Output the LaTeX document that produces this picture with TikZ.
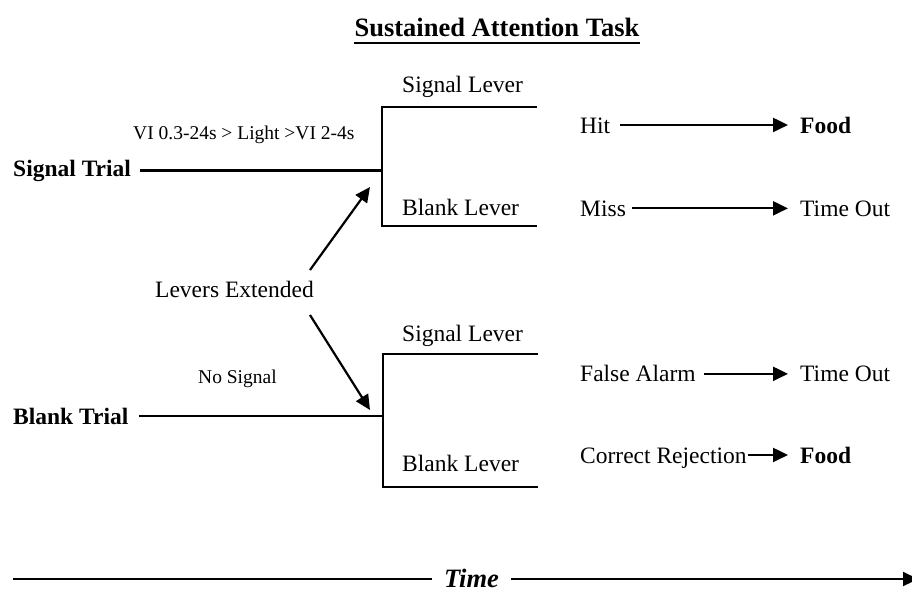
\documentclass[tikz,border=0pt]{standalone}
\usepackage{fontspec}
\setmainfont{Liberation Serif}
\usetikzlibrary{arrows.meta}
\begin{document}
\begin{tikzpicture}[x=1pt,y=-1pt,
  txt/.style={anchor=base west,inner sep=0pt,font=\fontsize{23.5}{27}\selectfont},
  btxt/.style={anchor=base west,inner sep=0pt,font=\fontsize{23.5}{27}\selectfont\bfseries},
  stxt/.style={anchor=base west,inner sep=0pt,font=\fontsize{19.5}{23}\selectfont},
  ln/.style={line width=2.2pt},
  arr/.style={ln,-{Triangle[length=15pt,width=14pt]}}]
\useasboundingbox (0,0) rectangle (912,592);
% title
\node[anchor=base,inner sep=0pt,font=\fontsize{26.5}{30}\selectfont\bfseries] (title) at (497,36) {Sustained Attention Task};
\draw[line width=2.4pt] ([yshift=-7pt]title.base west) -- ([yshift=-7pt]title.base east);
% upper half
\node[btxt] (st) at (13,176) {Signal Trial};
\node[stxt] (vi) at (133,139.5) {VI 0.3-24s > Light >VI 2-4s};
\coordinate (uT) at (382,107);
\coordinate (uB) at (382,226);
\coordinate (uTR) at (537,107);
\coordinate (uBR) at (537,226);
\draw[ln] (uTR) -- (uT) -- (uB) -- (uBR);
\draw[ln,shorten <=9pt] (st.east) -- (st.east -| uT);
\node[txt] (usl) at (402,92.5) {Signal Lever};
\node[txt] (ubl) at (402,215.5) {Blank Lever};
\node[txt] (hit) at (580,133) {Hit};
\node[btxt] (food1) at (800,133) {Food};
\node[txt] (miss) at (580,216) {Miss};
\node[txt] (to1) at (800,216) {Time Out};
\draw[arr,shorten <=10pt,shorten >=12pt] (hit.east |- food1.west) -- (food1.west);
\draw[arr,shorten <=6pt,shorten >=12pt] (miss.east |- to1.west) -- (to1.west);
% levers extended
\node[txt] (le) at (155,297.5) {Levers Extended};
\coordinate (a1s) at (310,270);
\coordinate (a1e) at (370,187);
\coordinate (a2s) at (310,315);
\coordinate (a2e) at (370,410);
\draw[arr] (a1s) -- (a1e);
\draw[arr] (a2s) -- (a2e);
% lower half
\node[btxt] (bt) at (13,424) {Blank Trial};
\node[stxt] (ns) at (198,383.5) {No Signal};
\coordinate (lT) at (383,354);
\coordinate (lB) at (383,487);
\coordinate (lTR) at (538,354);
\coordinate (lBR) at (538,487);
\draw[ln] (lTR) -- (lT) -- (lB) -- (lBR);
\draw[ln,shorten <=10pt] (bt.east) -- (bt.east -| lT);
\node[txt] (lsl) at (402,341) {Signal Lever};
\node[txt] (lbl) at (402,471) {Blank Lever};
\node[txt] (fa) at (580,381.5) {False Alarm};
\node[txt] (to2) at (800,381.5) {Time Out};
\node[txt] (cr) at (580,463) {Correct Rejection};
\node[btxt] (food2) at (800,463) {Food};
\draw[arr,shorten <=8pt,shorten >=12pt] (fa.east |- to2.west) -- (to2.west);
\draw[arr,shorten <=1pt,shorten >=12pt] (cr.east |- food2.west) -- (food2.west);
% time axis
\node[anchor=base,inner sep=0pt,font=\fontsize{26.5}{30}\selectfont\bfseries\itshape] (time) at (471.5,587) {Time};
\coordinate (tl) at (13,579);
\coordinate (tr) at (918,579);
\draw[ln,shorten >=12pt] (tl) -- (tl -| time.west);
\draw[arr,shorten <=12pt] (tr -| time.east) -- (tr);
\end{tikzpicture}
\end{document}
